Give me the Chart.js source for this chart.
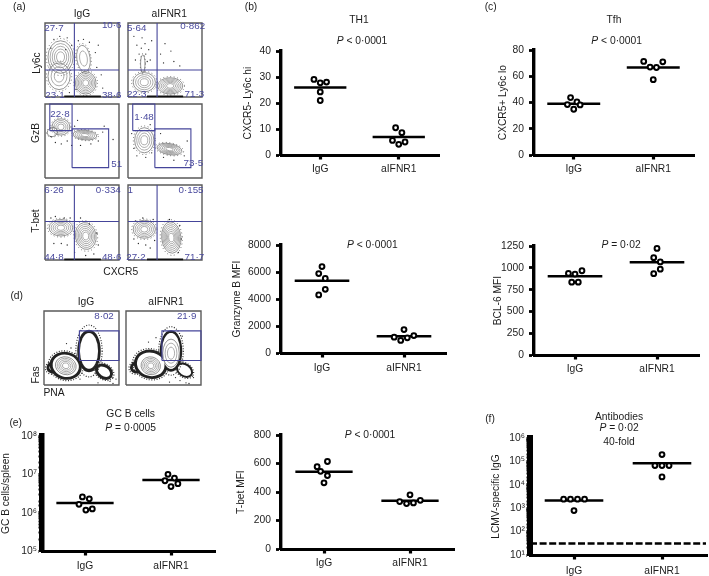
<!DOCTYPE html>
<html><head><meta charset="utf-8">
<script src="https://cdn.jsdelivr.net/npm/chart.js@4/dist/chart.umd.js"></script>
<style>
html,body{margin:0;padding:0;background:#fff;overflow:hidden;width:709px;height:576px}
#stage{position:absolute;left:0;top:0;width:709px;height:576px;overflow:hidden;filter:blur(0.35px)}
canvas{position:absolute}
.t{position:absolute;transform:translate(-50%,-50%);white-space:nowrap;font-family:"Liberation Sans",Arial,sans-serif;font-size:10.3px;color:#1c1c1c;line-height:1}
.r{transform:translate(-50%,-50%) rotate(-90deg)}
.b{color:#4a4a9e;font-size:9.8px}
</style></head><body><div id="stage"></div>
<script>
const categories=['IgG','aIFNR1'];
// ---- dot plot data (value, then horizontal position around category)
const th1IgG=[29.1,27.8,28.1,24.3,21.0], th1IgGX=[0.92,1,1.08,1,1];
const th1Anti=[10.5,8.6,5.6,4.1,5.0], th1AntiX=[1.96,2.04,1.92,2,2.08];
const th1Means=[26,6.9];
const tfhIgG=[43.8,40.5,38.5,38.2,34.9], tfhIgGX=[0.96,1.04,0.92,1.08,1];
const tfhAnti=[71.4,71.1,67.1,66.8,57.5], tfhAntiX=[1.88,2.12,1.96,2.04,2];
const tfhMeans=[39.2,66.8];
const gzbIgG=[6409,5896,5528,4721,4306], gzbIgGX=[1,0.96,1.04,1.04,0.96];
const gzbAnti=[1737,1296,1174,1125,930], gzbAntiX=[2,2.12,1.88,2.04,1.96];
const gzbMeans=[5357,1247];
const bclIgG=[968,937,930,836,836], bclIgGX=[1.085,0.92,1,0.96,1.04];
const bclAnti=[1224,1118,1069,986,934], bclAntiX=[2,1.96,2.04,2.04,1.96];
const bclMeans=[904,1065];
const tbetIgG=[615,578,546,516,465], tbetIgGX=[1.04,0.92,0.96,1.04,1];
const tbetAnti=[381,342,333,324,319], tbetAntiX=[2,2.12,1.88,2.04,1.96];
const tbetMeans=[543,340];
const gcIgG=[2.57e6,2.3e6,1.65e6,1.17e6,1.25e6], gcIgGX=[0.97,1.05,0.93,1.01,1.085];
const gcAnti=[1.0e7,8.0e6,6.8e6,5.7e6,4.8e6], gcAntiX=[1.965,2.04,1.93,2.08,2];
const gcMeans=[1.79e6,7.1e6];
const abIgG=[2430,2430,2430,2430,795], abIgGX=[0.882,0.96,1.04,1.12,1];
const abAnti=[195000,66000,66000,66000,21800], abAntiX=[2,1.92,2,2.08,2];
const abMeans=[2140,83000];
const abCutoff=31;

// ---- flow cytometry: percent labels
const statsRow1L=['27·7','10·6','23·1','38·6'], statsRow1R=['5·64','0·862','22·3','71·3'];
const statsRow2L=['22·8','51'], statsRow2R=['1·48','73·5'];
const statsRow3L=['6·26','0·334','44·8','48·6'], statsRow3R=['1','0·155','27·2','71·7'];
const statsDL=['8·02'], statsDR=['21·9'];

// ---- flow contours: centre x, centre y, radius x, radius y, tilt, rings (axis percent)
const cA1=[[21,54,17,22,0,5],[19,28,15,18,0,3],[55,19,14,15,0,6],[52,52,9,18,8,2]];
const cA2=[[57,15,17,11,0,6],[22,20,15,13,0,4],[20,45,3,12,0,1]];
const cB1=[[21.5,69,12,11,0,4],[54,58,16,6.5,-5,5],[10,62,7,6,20,1]];
const cB2=[[22,51,13,17,0,4],[56,39,17,7.5,-10,6]];
const cC1=[[21.5,43,16,11,0,5],[55,32,14,18,10,6]];
const cC2=[[22,41,15,12,0,5],[58.5,30,13,21,5,7]];
const cD1=[[29,26,14,12,-15,5]];
const cD2=[[33,26,13,12,-15,5],[60,43,11,19,0,3]];
// dense black event bands: same layout plus stroke width
const dD1=[[29,26,19,16,-15,4],[60,46,13,26,0,4],[80,18,11,8,-35,3],[12,24,7,6,30,3]];
const dD2=[[33,28,20,17,-15,4],[60,46,13,26,0,3],[78,20,11,8,-35,2],[14,24,7,6,30,3]];
// stray events
const sA1=[[12,78],[20,82],[30,80],[36,70],[8,66],[45,76],[52,78],[60,74],[68,60],[70,40],[76,30],[78,12],[33,6],[28,64],[42,10],[72,70]];
const sA2=[[12,70],[18,66],[23,72],[28,64],[15,58],[24,58],[30,50],[10,50],[32,76],[44,58],[50,72],[62,48],[70,42],[48,46],[58,62],[8,82],[19,80],[26,48]];
const sB1=[[8,56],[14,48],[22,46],[30,50],[36,44],[44,78],[48,44],[62,46],[72,50],[78,62],[80,70],[40,70],[92,52]];
const sB2=[[5,60],[8,40],[12,30],[24,28],[32,34],[48,28],[62,24],[76,30],[80,50],[44,60],[30,72]];
const sC1=[[8,56],[14,58],[26,56],[34,56],[48,56],[60,48],[70,36],[72,20],[30,20],[40,10],[12,22],[22,22],[55,6],[66,8]];
const sC2=[[10,52],[20,56],[34,54],[8,28],[14,22],[24,20],[30,16],[70,46],[72,28],[56,54],[68,10],[36,26]];
const sD1=[[96,8],[88,5],[92,2],[72,3],[48,8],[36,50],[30,56]];
const sD2=[[72,6],[80,3],[66,10],[90,10],[84,2],[30,58],[40,64],[75,66],[58,4]];

// ---- gates (axis percent)
const barXLeft=[26,75.5], barXRight=[25.6,74.5];
const quadA1={x:39.7,y:36.4}, quadA2={x:39.3,y:36.4}, quadC1={x:39.7,y:51.3}, quadC2={x:39.3,y:51.3};
const rectB1=[[6.5,36.6,64,100],[36.6,86,14,66.4]], rectB2=[[6.4,36.3,64,100],[36.3,85,14,66.4]];
const rectD1=[[47.2,100,33.2,73.2]], rectD2=[[47.9,100,33.2,73.2]];

const FONT='"Liberation Sans",Arial,sans-serif', INK='#1c1c1c', GATE='#45459a';
const stage=document.getElementById('stage');
function txt(x,y,s,cls){const d=document.createElement('div');d.className='t '+(cls||'');d.style.left=x+'px';d.style.top=y+'px';d.innerHTML=s;stage.appendChild(d);}
function mk(left,top,w,h){const c=document.createElement('canvas');c.width=w;c.height=h;c.style.left=left+'px';c.style.top=top+'px';c.style.width=w+'px';c.style.height=h+'px';stage.appendChild(c);return c;}
const zip=(xs,ys)=>ys.map((y,i)=>({x:xs[i],y}));
const sup={'0':'⁰','1':'¹','2':'²','3':'³','4':'⁴','5':'⁵','6':'⁶','7':'⁷','8':'⁸','9':'⁹'};

function dotPanel(p){
  const lh=12.4, left=Math.round(p.titleX-lh/2), M=p.x0-left, padT=10,padR=12,botH=28;
  const W=M+(p.x1-p.x0)+padR, H=padT+(p.y1-p.y0)+botH;
  const cv=mk(left,p.y0-padT,W,H);
  const dots=(xs,ys)=>({data:zip(xs,ys),showLine:false,pointRadius:2.4,pointBorderWidth:2,pointBorderColor:'#000',pointBackgroundColor:'#fff',order:0,clip:false});
  const mean=(c,v)=>({data:[{x:c-0.333,y:v},{x:c+0.333,y:v}],showLine:true,pointRadius:0,borderColor:'#000',borderWidth:2.5,order:1,clip:false});
  const ds=[dots(p.ax,p.a),dots(p.bx,p.b),mean(1,p.m[0]),mean(2,p.m[1])];
  if(p.cut)ds.push({data:[{x:0.5,y:p.cut},{x:2.5,y:p.cut}],showLine:true,pointRadius:0,borderColor:'#000',borderWidth:2.3,borderDash:[7,2.6],order:1,clip:false});
  const aw=p.axisW||3.4;
  new Chart(cv,{type:'scatter',data:{datasets:ds},options:{responsive:false,animation:false,events:[],
    layout:{padding:{top:padT,right:padR,left:0,bottom:0}},
    plugins:{legend:{display:false},tooltip:{enabled:false},title:{display:false}},
    scales:{
      x:{type:'linear',min:0.5,max:2.5,
        afterBuildTicks:s=>{s.ticks=[{value:1},{value:2}];},
        afterFit:s=>{s.height=botH;},
        border:{color:'#000',width:3},
        grid:{drawOnChartArea:false,color:'#000',tickColor:'#000',tickLength:4.5,tickWidth:3.2,lineWidth:3},
        ticks:{color:INK,padding:p.xPad||3,maxRotation:0,autoSkip:false,font:{family:FONT,size:10.3},callback:v=>categories[v-1]}},
      y:{type:p.log?'logarithmic':'linear',min:p.min,max:p.max,
        afterFit:s=>{s.width=M;},
        title:{display:true,text:p.ylabel,color:INK,padding:0,font:{family:FONT,size:10.2}},
        border:{color:'#000',width:aw},
        grid:{drawOnChartArea:false,color:'#000',tickColor:'#000',tickLength:p.tl||5,
          tickWidth:c=>{if(!p.log)return 2.8;const v=c.tick&&c.tick.value;return Number.isInteger(Math.round(Math.log10(v)*1e6)/1e6)?3:2;}},
        ticks:{color:INK,padding:p.yPad||5,autoSkip:false,stepSize:p.step,font:{family:FONT,size:10.3},
          callback:v=>{if(!p.log)return String(v);const e=Math.log10(v);if(Math.abs(e-Math.round(e))>1e-6)return '';return '10'+sup[Math.round(e)];}}}
    }}});
}
dotPanel({x0:281,x1:438,y0:50,y1:155,min:0,max:40,step:10,a:th1IgG,ax:th1IgGX,b:th1Anti,bx:th1AntiX,m:th1Means,ylabel:'CXCR5- Ly6c hi',titleX:248});
dotPanel({x0:534,x1:693,y0:49,y1:155,min:0,max:80,step:20,a:tfhIgG,ax:tfhIgGX,b:tfhAnti,bx:tfhAntiX,m:tfhMeans,ylabel:'CXCR5+ Ly6c lo',titleX:503});
dotPanel({x0:281,x1:445,y0:244,y1:353,min:0,max:8000,step:2000,a:gzbIgG,ax:gzbIgGX,b:gzbAnti,bx:gzbAntiX,m:gzbMeans,ylabel:'Granzyme B MFI',titleX:237,xPad:4.5});
dotPanel({x0:534,x1:698,y0:245,y1:355,min:0,max:1250,step:250,a:bclIgG,ax:bclIgGX,b:bclAnti,bx:bclAntiX,m:bclMeans,ylabel:'BCL-6 MFI',titleX:498});
dotPanel({x0:281,x1:453,y0:434,y1:549,min:0,max:800,step:200,a:tbetIgG,ax:tbetIgGX,b:tbetAnti,bx:tbetAntiX,m:tbetMeans,ylabel:'T-bet MFI',titleX:241});
dotPanel({x0:42,x1:214,y0:436,y1:551,min:1e5,max:1e8,log:true,a:gcIgG,ax:gcIgGX,b:gcAnti,bx:gcAntiX,m:gcMeans,ylabel:'GC B cells/spleen',titleX:6,axisW:5.5,tl:3.5,yPad:1.5,xPad:4.5});
dotPanel({x0:530,x1:706,y0:438,y1:555,min:10,max:1e6,log:true,a:abIgG,ax:abIgGX,b:abAnti,bx:abAntiX,m:abMeans,cut:abCutoff,ylabel:'LCMV-specific IgG',titleX:496,axisW:6,tl:3.5,yPad:1.5,xPad:5.5});

// draws the contour rings through the chart's own scales
const contourPlugin={id:'contours',beforeDatasetsDraw(ch,args,o){
  const ctx=ch.ctx,sx=ch.scales.x,sy=ch.scales.y,kx=sx.width/100,ky=sy.height/100;
  const ell=(c,f)=>{ctx.beginPath();ctx.ellipse(sx.getPixelForValue(c[0]),sy.getPixelForValue(c[1]),c[2]*kx*f,c[3]*ky*f,-c[4]*Math.PI/180,0,Math.PI*2);};
  ctx.save();
  (o.dense||[]).forEach(c=>{ctx.strokeStyle='#222';ctx.lineWidth=c[5];ctx.setLineDash([]);ell(c,1);ctx.stroke();
    ctx.strokeStyle='#333';ctx.lineWidth=1.2;ctx.setLineDash([1,1.6]);ell(c,1+(c[5]*0.85)/(c[2]*kx));ctx.stroke();ctx.setLineDash([]);});
  (o.dense||[]).forEach(c=>{if(c[2]>=13&&c[3]>=16){ctx.fillStyle='#fff';ell(c,0.93);ctx.fill();}});
  (o.rings||[]).forEach(c=>{
    if(!o.dense){ctx.strokeStyle='#555';ctx.lineWidth=0.9;ctx.setLineDash([0.9,2.6]);ell(c,1.14);ctx.stroke();ctx.setLineDash([]);}
    for(let i=0;i<c[5];i++){ctx.strokeStyle=i==0?'#666':'#8a8a8a';ctx.lineWidth=0.7;ell(c,1-i/c[5]*0.85);ctx.stroke();}
  });
  ctx.restore();
}};
function facs(p){
  const pad=2,w=p.x1-p.x0,h=p.y1-p.y0;
  const cv=mk(p.x0-pad,p.y0-pad,w+2*pad,h+2*pad);
  const ln=(pts,col,wd)=>({data:pts.map(a=>({x:a[0],y:a[1]})),showLine:true,pointRadius:0,borderColor:col,borderWidth:wd,clip:false,tension:0});
  const ds=[];
  if(p.quad){ds.push(ln([[p.quad.x,0],[p.quad.x,100]],GATE,1.1));ds.push(ln([[0,p.quad.y],[100,p.quad.y]],GATE,1.1));}
  (p.rects||[]).forEach(r=>ds.push(ln([[r[0],r[2]],[r[1],r[2]],[r[1],r[3]],[r[0],r[3]],[r[0],r[2]]],GATE,1.1)));
  if(p.bar)ds.push(ln([[p.bar[0],0.8],[p.bar[1],0.8]],'#111',1.8));
  ds.push(ln([[0,0],[100,0],[100,100],[0,100],[0,0]],'#5a5a5a',1.4));
  ds.push({data:p.stray.map(a=>({x:a[0],y:a[1]})),showLine:false,pointRadius:0.65,pointBorderWidth:0,pointBackgroundColor:'#222',clip:false});
  new Chart(cv,{type:'scatter',data:{datasets:ds},plugins:[contourPlugin],options:{responsive:false,animation:false,events:[],
    layout:{padding:pad},
    plugins:{legend:{display:false},tooltip:{enabled:false},contours:{rings:p.rings,dense:p.dense}},
    scales:{x:{display:false,type:'linear',min:0,max:100},y:{display:false,type:'linear',min:0,max:100}}}});
}
facs({x0:43,x1:121,y0:21,y1:99,quad:quadA1,rings:cA1,stray:sA1,bar:barXLeft});
facs({x0:126,x1:204,y0:21,y1:99,quad:quadA2,rings:cA2,stray:sA2,bar:barXRight});
facs({x0:43,x1:121,y0:102,y1:180,rects:rectB1,rings:cB1,stray:sB1});
facs({x0:126,x1:204,y0:102,y1:180,rects:rectB2,rings:cB2,stray:sB2});
facs({x0:43,x1:121,y0:183,y1:262,quad:quadC1,rings:cC1,stray:sC1,bar:barXLeft});
facs({x0:126,x1:204,y0:183,y1:262,quad:quadC2,rings:cC2,stray:sC2,bar:barXRight});
facs({x0:42,x1:121,y0:309,y1:387,rects:rectD1,rings:cD1,dense:dD1,stray:sD1});
facs({x0:124,x1:203,y0:309,y1:387,rects:rectD2,rings:cD2,dense:dD2,stray:sD2});

// blue stats
[[54,28],[111.7,25],[55,94.7],[111.7,94.7]].forEach((q,i)=>txt(q[0],q[1],statsRow1L[i],'b'));
[[136.7,28],[192.7,26],[136.7,94],[194.3,94]].forEach((q,i)=>txt(q[0],q[1],statsRow1R[i],'b'));
[[60,113.7],[116.7,164]].forEach((q,i)=>txt(q[0],q[1],statsRow2L[i],'b'));
[[144,116.7],[193.3,163.3]].forEach((q,i)=>txt(q[0],q[1],statsRow2R[i],'b'));
[[54,190.3],[108.3,190.3],[54,256.7],[111.7,256.7]].forEach((q,i)=>txt(q[0],q[1],statsRow3L[i],'b'));
[[130.3,190.3],[191,190.3],[136,256.7],[194.3,256.7]].forEach((q,i)=>txt(q[0],q[1],statsRow3R[i],'b'));
txt(104,315.7,statsDL[0],'b');txt(186.7,315.7,statsDR[0],'b');

// black labels
const P=s=>'<i>P</i>'+s;
txt(19.3,6.7,'(a)');txt(82,14,'IgG');txt(169.3,13.5,'aIFNR1');
txt(36.7,63.3,'Ly6c','r');txt(36,133.3,'GzB','r');txt(36,220.7,'T-bet','r');txt(120.7,272.3,'CXCR5');
txt(251,7.3,'(b)');txt(359,20,'TH1');txt(362,40.7,P(' &lt; 0·0001'));
txt(490.7,7.3,'(c)');txt(614,20,'Tfh');txt(616.7,40.7,P(' &lt; 0·0001'));
txt(372.3,245,P(' &lt; 0·0001'));txt(621,245,P(' = 0·02'));txt(370,435,P(' &lt; 0·0001'));
txt(16.7,296,'(d)');txt(86,302.3,'IgG');txt(166,302.3,'aIFNR1');txt(36,375,'Fas','r');txt(54,393.3,'PNA');
txt(15.7,422.7,'(e)');txt(130.7,413.7,'GC B cells');txt(130.7,428.3,P(' = 0·0005'));
txt(490,419.3,'(f)');txt(619,417.3,'Antibodies');txt(619,428.3,P(' = 0·02'));txt(619,442.3,'40-fold');
</script></body></html>
